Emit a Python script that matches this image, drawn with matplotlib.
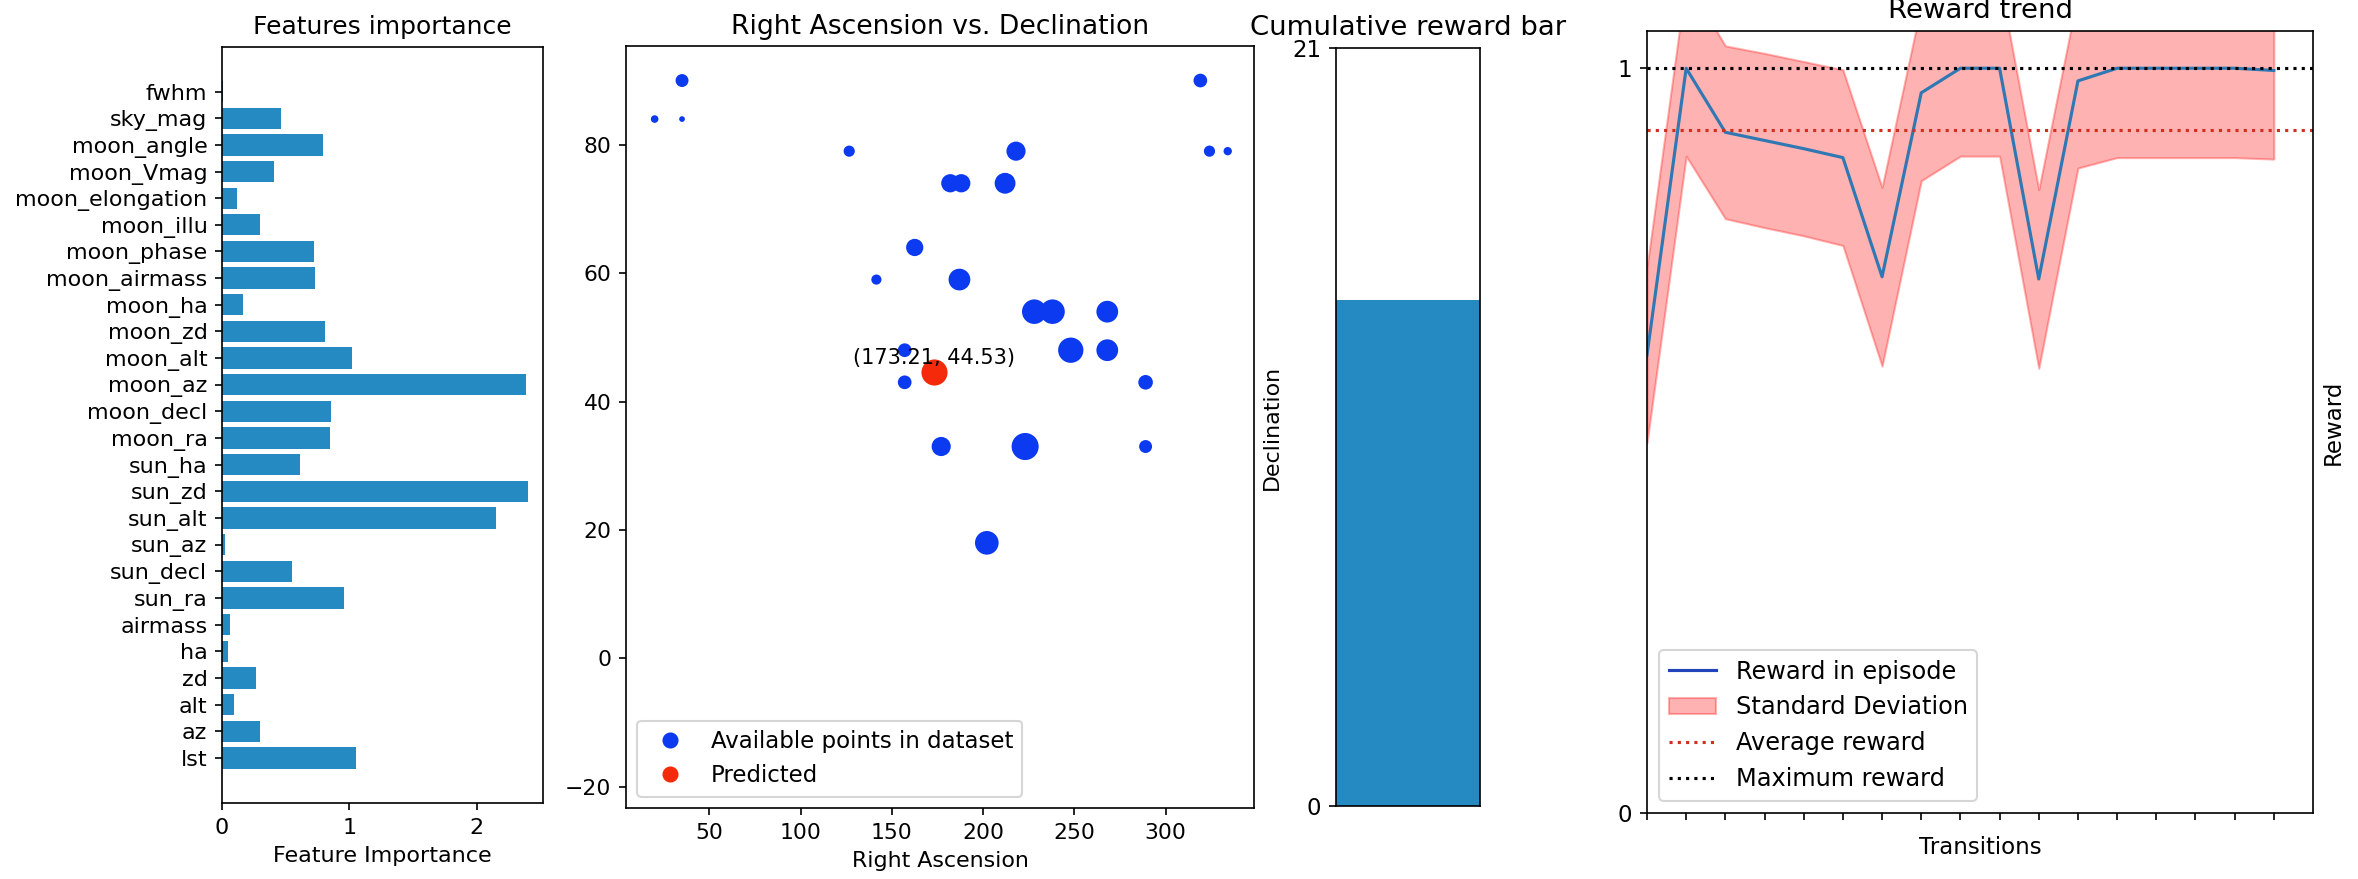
import matplotlib

matplotlib.use("Agg")
import matplotlib.pyplot as plt
from matplotlib.lines import Line2D

# feature importance, listed bottom to top
features = [
    "lst", "az", "alt", "zd", "ha", "airmass", "sun_ra", "sun_decl", "sun_az",
    "sun_alt", "sun_zd", "sun_ha", "moon_ra", "moon_decl", "moon_az", "moon_alt",
    "moon_zd", "moon_ha", "moon_airmass", "moon_phase", "moon_illu",
    "moon_elongation", "moon_Vmag", "moon_angle", "sky_mag", "fwhm",
]
importance = [
    1.05, 0.295, 0.096, 0.267, 0.048, 0.062, 0.96, 0.548, 0.025,
    2.15, 2.40, 0.612, 0.846, 0.854, 2.39, 1.02,
    0.806, 0.163, 0.73, 0.72, 0.30,
    0.118, 0.41, 0.79, 0.466, 0.005,
]

# dataset points (right ascension, declination, marker size)
ra = [20, 35, 35, 126.6, 141.5, 162.5, 157, 157, 177, 182, 188, 187, 212,
      218, 202, 223, 228, 238, 248, 268, 268, 289, 289, 319, 324, 334]
dec = [84, 90, 84, 79, 59, 64, 48, 43, 33, 74, 74, 59, 74,
       79, 18, 33, 54, 54, 48, 54, 48, 43, 33, 90, 79, 79]
sizes = [7, 27, 3, 19, 15, 53, 31, 31, 67, 60, 60, 89, 81,
         67, 107, 144, 116, 116, 124, 89, 89, 36, 27, 31, 19, 9]
pred_ra = 173.21
pred_dec = 44.53
pred_size = 133

cumulative_reward = 14
max_cumulative = 21

# reward per transition and its standard deviation
reward = [0.615, 1.0, 0.914, 0.903, 0.892, 0.880, 0.720, 0.967, 1.0,
          1.0, 0.717, 0.983, 1.0, 1.0, 1.0, 1.0, 0.997]
reward_std = [0.118, 0.118, 0.116, 0.117, 0.117, 0.118, 0.12, 0.118, 0.118,
              0.118, 0.12, 0.117, 0.12, 0.12, 0.12, 0.12, 0.119]
avg_reward = 0.917
max_reward = 1.0

W, H = 2358, 879
BAR_COLOR = "#2589c2"
BLUE = "#0b3af0"
RED = "#f52a0a"


def box(left, top, right, bottom):
    return [left / W, 1 - bottom / H, (right - left) / W, (bottom - top) / H]


fig = plt.figure(figsize=(W / 150, H / 150), dpi=150)

# features importance
ax1 = fig.add_axes(box(222, 46.5, 543, 803))
ax1.barh(range(len(features)), importance, color=BAR_COLOR)
ax1.set_yticks(range(len(features)))
ax1.set_yticklabels(features)
ax1.tick_params(labelsize=10.7)
ax1.set_title("Features importance")
ax1.set_xlabel("Feature Importance", fontsize=10.7)

# right ascension vs declination
ax2 = fig.add_axes(box(626, 46.5, 1254, 808))
ax2.scatter(ra, dec, s=sizes, color=BLUE)
ax2.scatter([pred_ra], [pred_dec], s=pred_size, color=RED)
ax2.annotate(
    f"({pred_ra}, {pred_dec})",
    (pred_ra, pred_dec),
    xytext=(0, 2),
    textcoords="offset points",
    ha="center",
    va="bottom",
    fontsize=10,
)
ax2.set_xlim(4.3, 348.4)
ax2.set_ylim(-23.3, 95.3)
ax2.tick_params(labelsize=10.5)
ax2.set_title("Right Ascension vs. Declination", fontsize=12.8)
ax2.set_xlabel("Right Ascension", fontsize=10.6)
ax2.yaxis.set_label_position("right")
ax2.set_ylabel("Declination", fontsize=10.6)
handles = [
    Line2D([], [], marker="o", ls="", color=BLUE, markersize=6.7),
    Line2D([], [], marker="o", ls="", color=RED, markersize=6.7),
]
ax2.legend(handles, ["Available points in dataset", "Predicted"],
           loc="lower left", fontsize=11)

# cumulative reward bar
ax3 = fig.add_axes(box(1336, 47.6, 1480, 806))
ax3.bar([0], [cumulative_reward], width=1.0, color=BAR_COLOR)
ax3.set_xlim(-0.5, 0.5)
ax3.set_ylim(0, max_cumulative)
ax3.set_yticks([0, max_cumulative])
ax3.set_xticks([])
ax3.tick_params(labelsize=11)
ax3.set_title("Cumulative reward bar", fontsize=13.2)

# reward trend
ax4 = fig.add_axes(box(1647, 31, 2313, 813))
steps = list(range(len(reward)))
lower = [r - s for r, s in zip(reward, reward_std)]
upper = [r + s for r, s in zip(reward, reward_std)]
ax4.plot(steps, reward, color="#2f78b3", label="Reward in episode")
ax4.fill_between(steps, lower, upper, color="red", alpha=0.3, label="Standard Deviation")
ax4.axhline(avg_reward, color="#d03020", ls=":", label="Average reward")
ax4.axhline(max_reward, color="black", ls=":", label="Maximum reward")
ax4.set_xlim(0, len(reward))
ax4.set_ylim(0, 1.05)
ax4.set_xticks(steps)
ax4.set_xticklabels([""] * len(steps))
ax4.set_yticks([0, 1])
ax4.tick_params(labelsize=11)
ax4.set_title("Reward trend", fontsize=13.2)
ax4.set_xlabel("Transitions", fontsize=11)
ax4.yaxis.set_label_position("right")
ax4.set_ylabel("Reward", fontsize=11)
leg = ax4.legend(loc="lower left", fontsize=11.5)
leg.get_lines()[0].set_color("#2244bb")

fig.savefig("out.png", dpi=150)
